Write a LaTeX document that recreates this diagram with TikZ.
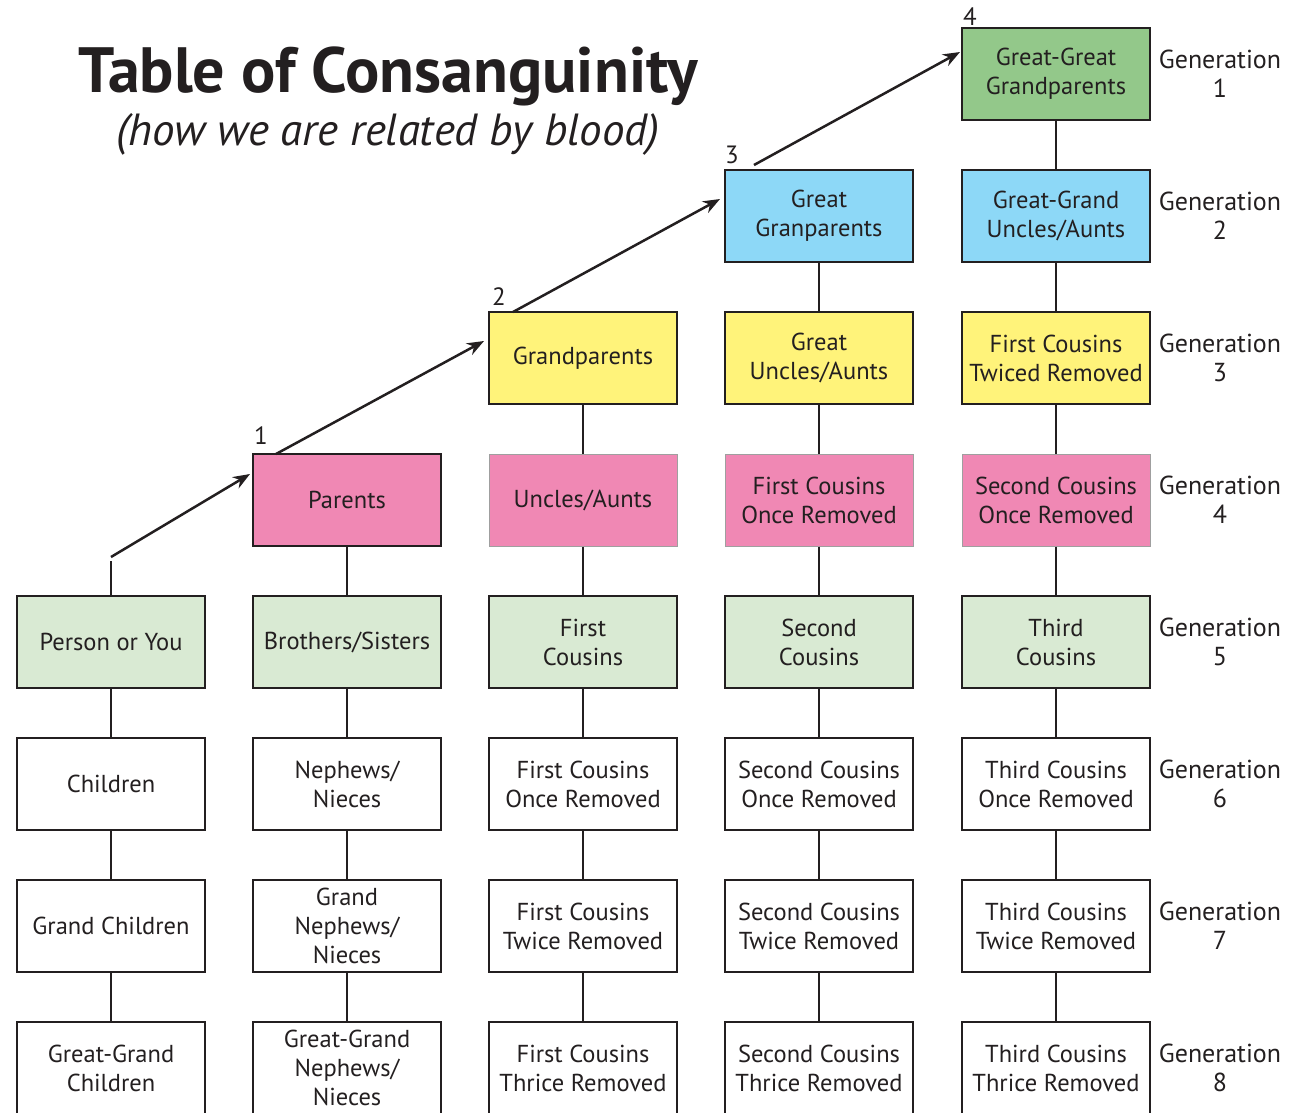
\documentclass[tikz,border=0pt]{standalone}
\usepackage{fontspec}
\setmainfont{PT Sans}
\usetikzlibrary{arrows.meta}
\definecolor{txt}{HTML}{231F20}
\definecolor{ggreen}{HTML}{93C88A}
\definecolor{gblue}{HTML}{8DD8F7}
\definecolor{gyellow}{HTML}{FFF37A}
\definecolor{gpink}{HTML}{F088B4}
\definecolor{lgreen}{HTML}{D9EAD3}
\tikzset{
  box/.style={draw=txt, line width=2.6pt, minimum width=188pt, minimum height=92pt,
    inner sep=0pt, align=center, text=txt, font=\fontsize{24.5}{29}\selectfont},
  thinbox/.style={box, draw=gray!75, line width=1pt},
  conn/.style={draw=txt, line width=2.8pt},
  arr/.style={draw=txt, line width=2.5pt, -{Stealth[length=17pt,width=13pt]}},
  gen/.style={align=center, text=txt, font=\fontsize{26}{29}\selectfont},
  num/.style={text=txt, font=\fontsize{25}{29}\selectfont, inner sep=0pt}
}
\begin{document}
\begin{tikzpicture}[x=1pt,y=-1pt]
\useasboundingbox (0,0) rectangle (1300,1112);
% title
\node[text=txt, font=\fontsize{64}{70}\selectfont\bfseries, anchor=base] (title) at (388,92) {Table of Consanguinity};
\node[text=txt, font=\fontsize{45}{50}\selectfont\itshape, anchor=base] (subtitle) at (388,145) {(how we are related by blood)};
% row 1
\node[box, fill=ggreen] (r1c5) at (1056,74) {Great-Great\\Grandparents};
% row 2
\node[box, fill=gblue] (r2c4) at (819,216) {Great\\Granparents};
\node[box, fill=gblue] (r2c5) at (1056,216) {Great-Grand\\Uncles/Aunts};
% row 3
\node[box, fill=gyellow] (r3c3) at (583,358) {Grandparents};
\node[box, fill=gyellow] (r3c4) at (819,358) {Great\\Uncles/Aunts};
\node[box, fill=gyellow] (r3c5) at (1056,358) {First Cousins\\Twiced Removed};
% row 4
\node[box, fill=gpink] (r4c2) at (347,500) {Parents};
\node[thinbox, fill=gpink] (r4c3) at (583,500) {Uncles/Aunts};
\node[thinbox, fill=gpink] (r4c4) at (819,500) {First Cousins\\Once Removed};
\node[thinbox, fill=gpink] (r4c5) at (1056,500) {Second Cousins\\Once Removed};
% row 5
\node[box, fill=lgreen] (r5c1) at (111,642) {Person or You};
\node[box, fill=lgreen] (r5c2) at (347,642) {Brothers/Sisters};
\node[box, fill=lgreen] (r5c3) at (583,642) {First\\Cousins};
\node[box, fill=lgreen] (r5c4) at (819,642) {Second\\Cousins};
\node[box, fill=lgreen] (r5c5) at (1056,642) {Third\\Cousins};
% row 6
\node[box, fill=white] (r6c1) at (111,784) {Children};
\node[box, fill=white] (r6c2) at (347,784) {Nephews/\\Nieces};
\node[box, fill=white] (r6c3) at (583,784) {First Cousins\\Once Removed};
\node[box, fill=white] (r6c4) at (819,784) {Second Cousins\\Once Removed};
\node[box, fill=white] (r6c5) at (1056,784) {Third Cousins\\Once Removed};
% row 7
\node[box, fill=white] (r7c1) at (111,926) {Grand Children};
\node[box, fill=white] (r7c2) at (347,926) {Grand\\Nephews/\\Nieces};
\node[box, fill=white] (r7c3) at (583,926) {First Cousins\\Twice Removed};
\node[box, fill=white] (r7c4) at (819,926) {Second Cousins\\Twice Removed};
\node[box, fill=white] (r7c5) at (1056,926) {Third Cousins\\Twice Removed};
% row 8
\node[box, fill=white] (r8c1) at (111,1068) {Great-Grand\\Children};
\node[box, fill=white] (r8c2) at (347,1068) {Great-Grand\\Nephews/\\Nieces};
\node[box, fill=white] (r8c3) at (583,1068) {First Cousins\\Thrice Removed};
\node[box, fill=white] (r8c4) at (819,1068) {Second Cousins\\Thrice Removed};
\node[box, fill=white] (r8c5) at (1056,1068) {Third Cousins\\Thrice Removed};
% generation labels
\foreach \g/\y in {1/74,2/216,3/358,4/500,5/642,6/784,7/926,8/1068}
  \node[gen] (gen\g) at (1220,\y) {Generation\\\g};
% vertical connectors
\coordinate (youtop) at (111,561);
\draw[conn] (r5c1.north) -- (youtop);
\foreach \a/\b in {r5c1/r6c1,r6c1/r7c1,r7c1/r8c1,
  r4c2/r5c2,r5c2/r6c2,r6c2/r7c2,r7c2/r8c2,
  r3c3/r4c3,r4c3/r5c3,r5c3/r6c3,r6c3/r7c3,r7c3/r8c3,
  r2c4/r3c4,r3c4/r4c4,r4c4/r5c4,r5c4/r6c4,r6c4/r7c4,r7c4/r8c4,
  r1c5/r2c5,r2c5/r3c5,r3c5/r4c5,r4c5/r5c5,r5c5/r6c5,r6c5/r7c5,r7c5/r8c5}
  \draw[conn] (\a.south) -- (\b.north);
% diagonal arrows
\coordinate (a1s) at (111,557);
\coordinate (a1e) at (250,474);
\coordinate (a2s) at (276,454);
\coordinate (a2e) at (484,341);
\coordinate (a3s) at (513,312);
\coordinate (a3e) at (720,199);
\coordinate (a4s) at (754,165);
\coordinate (a4e) at (960,52);
\draw[arr] (a1s) -- (a1e);
\draw[arr] (a2s) -- (a2e);
\draw[arr] (a3s) -- (a3e);
\draw[arr] (a4s) -- (a4e);
% step numbers
\node[num] (n1) at (261,436) {1};
\node[num] (n2) at (499,297) {2};
\node[num] (n3) at (732,155) {3};
\node[num] (n4) at (970,17) {4};
\end{tikzpicture}
\end{document}
